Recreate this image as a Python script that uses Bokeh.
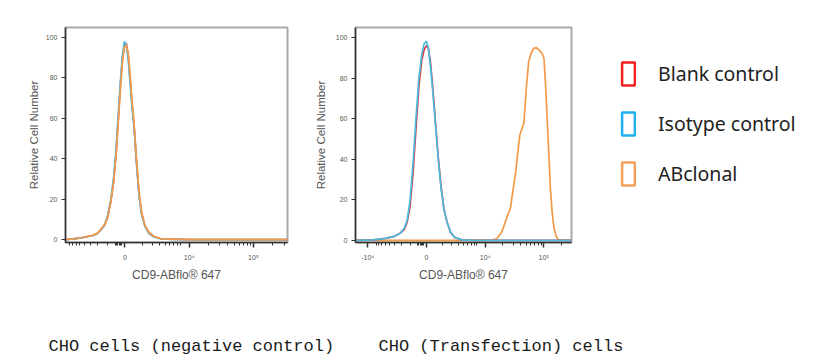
import numpy as np
from bokeh.plotting import figure
from bokeh.models import FixedTicker, Range1d, Legend, LegendItem, Label
from bokeh.layouts import column, row
from bokeh.embed import file_html
from bokeh.resources import INLINE

# ---------------- data (x in display units of the biexponential axis) ----------------
# tick positions: -1 -> -10^4, 0 -> 0, 1 -> 10^4, 2 -> 10^5
tick_pos = [-1, 0, 1, 2]
tick_labels = ["-10\u2074", "0", "10\u2074", "10\u2075"]
y_ticks = [0, 20, 40, 60, 80, 100]

# Left panel: CHO cells (negative control)
neg_x = [-0.93, -0.8, -0.68, -0.58, -0.5, -0.43, -0.37, -0.32, -0.27, -0.22, -0.18, -0.14,
         -0.1, -0.07, -0.04, -0.01, 0.02, 0.05, 0.08, 0.11, 0.14, 0.18, 0.22, 0.26, 0.31,
         0.37, 0.45, 0.55, 0.7, 1.0, 1.5, 2.0, 2.53]
neg_blank = [0, 0.3, 0.8, 1.5, 2, 3, 5, 7, 11, 19, 28, 42, 62, 77, 89, 96, 97, 91, 79, 67,
             57, 38, 22, 13, 7, 3.5, 1.5, 0.5, 0.2, 0, 0, 0, 0]
neg_isotype = [0, 0.3, 0.8, 1.5, 2, 3, 5, 7, 12, 20, 30, 44, 64, 79, 91, 98, 96, 89, 77, 65,
               56, 37, 21, 12, 6.5, 3, 1.3, 0.4, 0.1, 0, 0, 0, 0]
neg_abclonal = [0, 0.3, 0.9, 1.6, 2.1, 3.2, 5.2, 7.3, 11, 19, 28, 41, 60, 75, 88, 95, 96, 92,
                81, 68, 58, 39, 23, 13, 7, 3.5, 1.5, 0.5, 0.2, 0, 0, 0, 0]

# Right panel: CHO (Transfection) cells
pos_x = [-1.21, -0.9, -0.7, -0.55, -0.45, -0.38, -0.33, -0.28, -0.23, -0.18, -0.13, -0.08,
         -0.04, 0.0, 0.03, 0.07, 0.11, 0.15, 0.2, 0.25, 0.3, 0.35, 0.41, 0.48, 0.6, 0.8, 1.2, 2.47]
pos_isotype = [0, 0.3, 1, 2, 3.5, 6, 10, 20, 38, 60, 80, 92, 97, 98, 95, 85, 72, 58, 40, 25,
               15, 9, 4, 1.5, 0.3, 0, 0, 0]
pos_blank = [0, 0.3, 1, 2, 3.5, 5.5, 9, 17, 33, 55, 76, 89, 94, 96, 95, 87, 74, 59, 41, 26,
             15, 9, 4, 1.5, 0.3, 0, 0, 0]
pos_ab_x = [-1.21, 0.5, 1.1, 1.2, 1.28, 1.37, 1.43, 1.52, 1.59, 1.66, 1.70, 1.74, 1.78, 1.82,
            1.87, 1.91, 1.96, 2.0, 2.03, 2.07, 2.11, 2.14, 2.17, 2.21, 2.25, 2.47]
pos_ab_y = [0, 0, 0, 1, 4, 11.5, 16, 34, 52, 58, 75, 88, 92, 94.5, 95, 94, 92.5, 90, 76, 51,
            26, 14, 6.5, 2, 0.3, 0]

legend_labels = ["Blank control", "Isotype control", "ABclonal"]
captions = ["CHO cells (negative control)", "CHO (Transfection) cells"]

RED = "#e0303c"
BLUE = "#48bde0"
ORANGE = "#f29a48"

# minor ticks of the biexponential axis (decoration only)
k = np.arange(2, 10)
minor = list(-1 - np.log10(k)) + list(-np.log10(k) * 0.9) + [-0.15, -0.13, -0.11, -0.09, -0.07, -0.05] \
    + list(np.log10(k) * 0.9) + list(1 + np.log10(k)) + list(2 + np.log10(k))


def panel(width, bl, bt, br, xr, yr, lab_standoff):
    p = figure(width=width, height=285, x_range=Range1d(*xr), y_range=Range1d(*yr),
               output_backend="svg", toolbar_location=None,
               min_border_left=bl, min_border_top=bt, min_border_right=br, min_border_bottom=43)
    p.xgrid.visible = False
    p.ygrid.visible = False
    p.outline_line_color = "#a9a9a9"
    p.outline_line_width = 2
    p.background_fill_color = "white"
    p.border_fill_color = "white"

    xa = p.xaxis[0]
    xa.ticker = FixedTicker(ticks=tick_pos, minor_ticks=minor)
    xa.major_label_overrides = {t: l for t, l in zip(tick_pos, tick_labels)}
    xa.axis_label = "CD9-ABflo\u00ae 647"
    xa.axis_label_text_font = "Liberation Sans"
    xa.axis_label_text_font_size = "12px"
    xa.axis_label_text_font_style = "normal"
    xa.axis_label_text_color = "#555555"
    xa.axis_label_standoff = 4
    xa.major_label_text_font_size = "7px"
    xa.major_label_text_color = "#555555"
    xa.major_label_standoff = 6
    xa.axis_line_color = "#333333"
    xa.axis_line_width = 1.5
    xa.major_tick_line_color = "#333333"
    xa.major_tick_line_width = 1.5
    xa.major_tick_out = 5
    xa.major_tick_in = 0
    xa.minor_tick_line_color = "#333333"
    xa.minor_tick_out = 3
    xa.minor_tick_in = 0

    ya = p.yaxis[0]
    ya.ticker = FixedTicker(ticks=y_ticks)
    ya.axis_label = "Relative Cell Number"
    ya.axis_label_text_font = "Liberation Sans"
    ya.axis_label_text_font_size = "11.5px"
    ya.axis_label_text_font_style = "normal"
    ya.axis_label_text_color = "#555555"
    ya.axis_label_standoff = lab_standoff
    ya.major_label_text_font_size = "7px"
    ya.major_label_text_color = "#555555"
    ya.major_label_standoff = 4
    ya.axis_line_color = "#333333"
    ya.axis_line_width = 1.5
    ya.major_tick_line_color = "#333333"
    ya.major_tick_out = 4
    ya.major_tick_in = 0
    ya.minor_tick_line_color = None
    return p


p1 = panel(300, 65, 22, 13, (-0.926, 2.53), (-1.45, 104.8), 3)
p1.line(neg_x, neg_blank, line_color=RED, line_width=1.7)
p1.line(neg_x, neg_isotype, line_color=BLUE, line_width=1.7)
p1.line(neg_x, neg_abclonal, line_color=ORANGE, line_width=1.7)

p2 = panel(273, 55, 27, 2, (-1.21, 2.47), (-1.0, 104.9), 6)
p2.line(pos_ab_x, pos_ab_y, line_color=ORANGE, line_width=1.7)
p2.line(pos_x, pos_blank, line_color=RED, line_width=1.7)
p2.line(pos_x, pos_isotype, line_color=BLUE, line_width=1.7)

# legend panel
pl = figure(width=240, height=285, x_range=Range1d(0, 1), y_range=Range1d(0, 1),
            output_backend="svg", toolbar_location=None,
            min_border_left=0, min_border_right=0, min_border_top=0, min_border_bottom=0)
pl.axis.visible = False
pl.grid.visible = False
pl.outline_line_color = None
leg_colors = ["#f52020", "#1eb0ee", "#f5a05a"]
items = []
nan = float("nan")
for lab, c in zip(legend_labels, leg_colors):
    r = pl.quad(left=[nan], right=[nan], top=[nan], bottom=[nan], fill_alpha=0,
                line_color=c, line_width=2.5, border_radius=4)
    items.append(LegendItem(label=lab, renderers=[r]))
leg = Legend(items=items, location=(47, 54), glyph_width=16, glyph_height=29, spacing=21,
             label_standoff=22, label_text_font="Noto Sans", label_text_font_size="19.5px",
             label_text_color="#222222", padding=0, margin=0, border_line_color=None,
             background_fill_alpha=0)
pl.add_layout(leg)

# caption panel
pc = figure(width=813, height=70, x_range=Range1d(0, 1), y_range=Range1d(0, 1),
            output_backend="svg", toolbar_location=None,
            min_border_left=0, min_border_right=0, min_border_top=0, min_border_bottom=0)
pc.axis.visible = False
pc.grid.visible = False
pc.outline_line_color = None
for xpos, txt in zip([48, 378], captions):
    pc.add_layout(Label(x=xpos, y=9, x_units="screen", y_units="screen", text=txt,
                        text_font="Liberation Mono", text_font_size="17px",
                        text_color="#1a1a1a", text_baseline="middle", text_align="left"))

layout = column(row(p1, p2, pl), pc)
open("out.html", "w").write(file_html(layout, INLINE))
